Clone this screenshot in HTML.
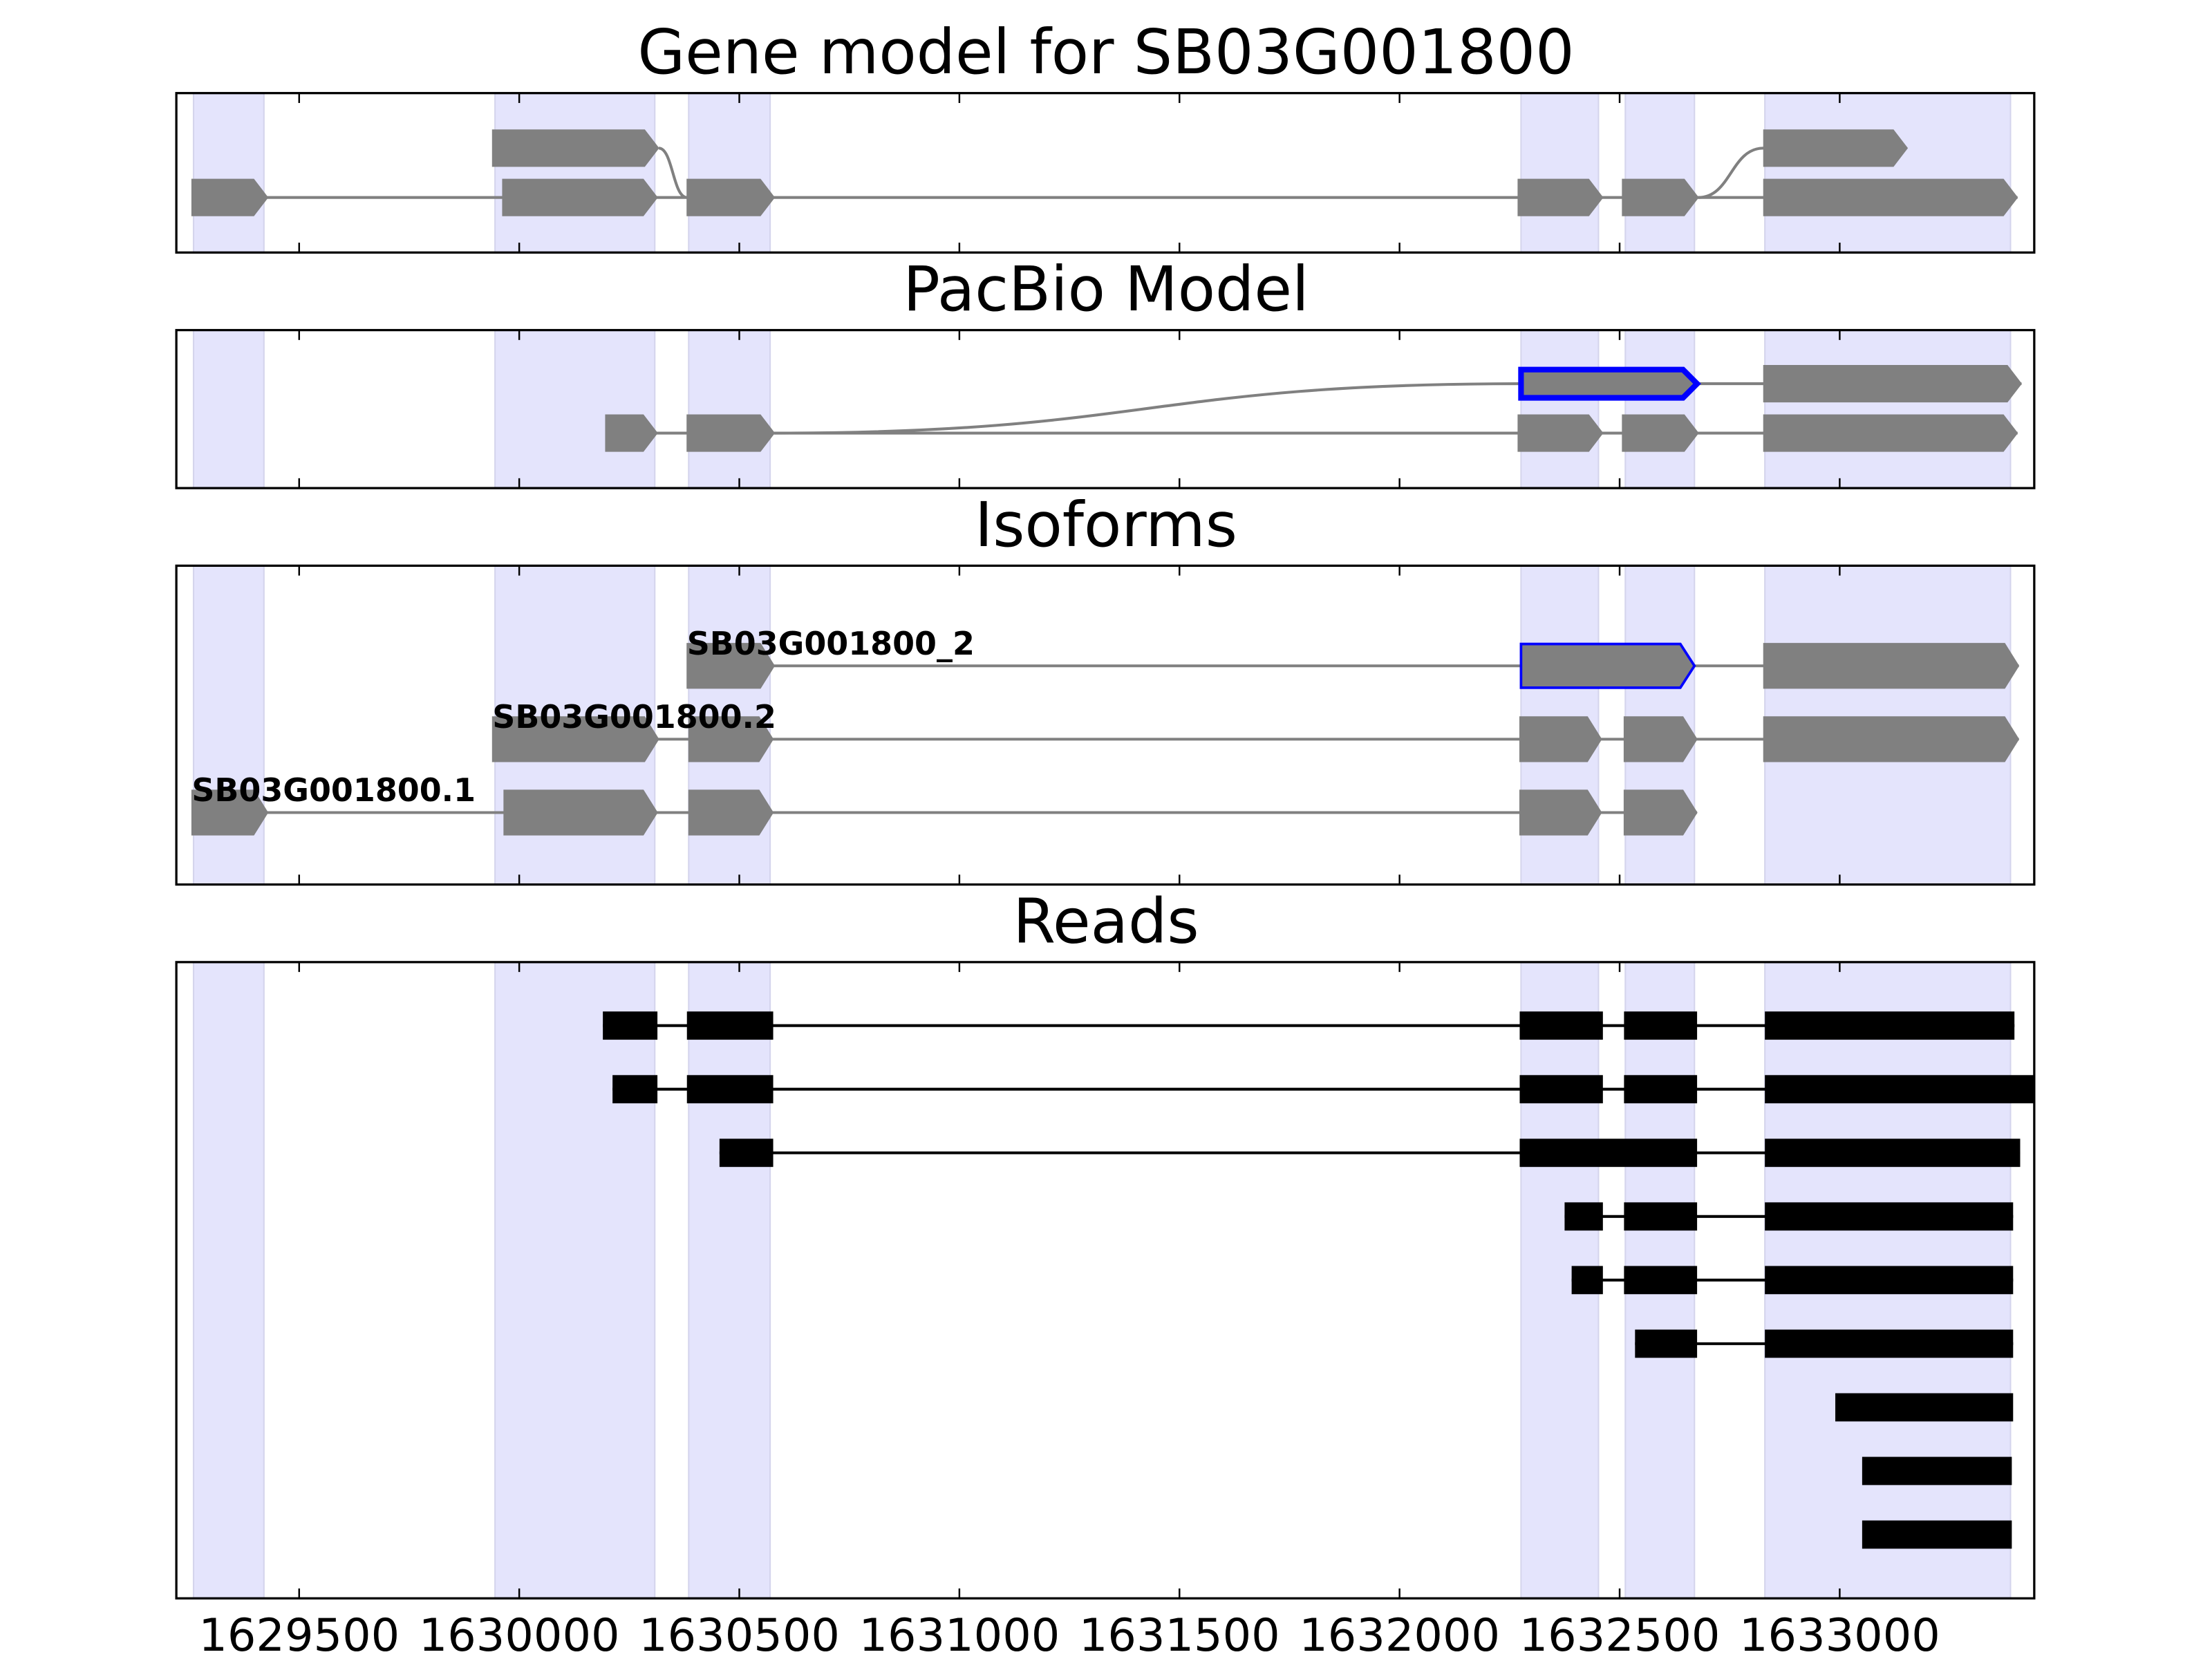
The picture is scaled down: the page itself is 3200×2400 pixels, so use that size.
<!DOCTYPE html>
<html><head><meta charset="utf-8"><style>
html,body{margin:0;padding:0;background:#fff}
svg{display:block}
text{font-family:"DejaVu Sans","Liberation Sans",sans-serif}
</style></head><body>
<svg id="chart" width="3200" height="2400" viewBox="0 0 1568 1176" xmlns="http://www.w3.org/2000/svg"></svg>
<script>
const ticks = [1629500,1630000,1630500,1631000,1631500,1632000,1632500,1633000];
const shadeStarts = [1629260,1629945,1630385,1632276,1632513,1632830];
const shadeEnds   = [1629420,1630308,1630570,1632452,1632670,1633388];
const geneLower = [[1629256,1629429],[1629962,1630314],[1630381,1630580],[1632269,1632462],[1632506,1632679],[1632827,1633404]];
const geneUpper = [[1629939,1630317],[1632827,1633154]];
const pacUpper = [[1632276,1632676],[1632827,1633413]];
const pacLower = [[1630196,1630314],[1630381,1630580],[1632269,1632462],[1632506,1632679],[1632827,1633404]];
const iso1 = [[1630381,1630580],[1632276,1632670],[1632827,1633407]];
const iso2 = [[1629939,1630317],[1630385,1630577],[1632273,1632459],[1632510,1632676],[1632827,1633407]];
const iso3 = [[1629256,1629429],[1629965,1630314],[1630385,1630577],[1632273,1632459],[1632510,1632676]];
const isoNames = ["SB03G001800_2","SB03G001800.2","SB03G001800.1"];
const reads = [
 [[1630190,1630314],[1630381,1630577],[1632273,1632462],[1632510,1632676],[1632830,1633397]],
 [[1630212,1630314],[1630381,1630577],[1632273,1632462],[1632510,1632676],[1632830,1633442]],
 [[1630455,1630577],[1632273,1632676],[1632830,1633410]],
 [[1632375,1632462],[1632510,1632676],[1632830,1633394]],
 [[1632391,1632462],[1632510,1632676],[1632830,1633394]],
 [[1632535,1632676],[1632830,1633394]],
 [[1632990,1633394]],
 [[1633051,1633391]],
 [[1633051,1633391]]
];
const svg = document.getElementById('chart');
const NS = 'http://www.w3.org/2000/svg';
const X0 = 125, X1 = 1442, V0 = 1629221, V1 = 1633442;
function x(v){ return X0 + (v - V0) * (X1 - X0) / (V1 - V0); }
function mk(tag, attrs, parent){ const e = document.createElementNS(NS, tag); for (const k in attrs) e.setAttribute(k, attrs[k]); (parent||svg).appendChild(e); return e; }
const TIP = 10;
function arrow(b, y, h, g, stroke, sw){
  const a = x(b[0]), c = x(b[1]), t = Math.min(TIP, (c-a)*0.6);
  const p = mk('polygon', {points:`${a},${y-h/2} ${c-t},${y-h/2} ${c},${y} ${c-t},${y+h/2} ${a},${y+h/2}`, fill:'#808080', stroke:stroke||'#808080', 'stroke-width':sw||0.5, 'stroke-linejoin':'miter'}, g);
  
  
}
function connect(blocks, y, g, color, w){
  const l = mk('line', {x1:x(blocks[0][0]), x2:x(blocks[blocks.length-1][1]), y1:y, y2:y, stroke:color, 'stroke-width':w}, g);
  
  
}
function panel(name, title, top, bottom){
  const g = mk('g', {});
  
  
  const t = mk('text', {x:784, y:top-14, 'text-anchor':'middle', 'font-size':43.5, fill:'#000'}, g);
  t.textContent = title;
  
  
  for (let i = 0; i < shadeStarts.length; i++){
    const r = mk('rect', {x:x(shadeStarts[i]), y:top, width:x(shadeEnds[i])-x(shadeStarts[i]), height:bottom-top, fill:'#e4e4fc', stroke:'#d4d4ec', 'stroke-width':1}, g);
    
    
  }
  return g;
}
function frame(g, top, bottom, labels){
  for (const tv of ticks){
    const tx = x(tv);
    mk('line', {x1:tx, x2:tx, y1:top, y2:top+7, stroke:'#000', 'stroke-width':1.2}, g);
    mk('line', {x1:tx, x2:tx, y1:bottom, y2:bottom-7, stroke:'#000', 'stroke-width':1.2}, g);
    if (labels){
      const lt = mk('text', {x:tx, y:1170, 'text-anchor':'middle', 'font-size':32, fill:'#000'}, g);
      lt.textContent = tv;
      
      
    }
  }
  const f = mk('rect', {x:X0, y:top, width:X1-X0, height:bottom-top, fill:'none', stroke:'#000', 'stroke-width':1.6}, g);
  
  
}
function curve(xa, ya, xb, yb, g){
  const m = (xa+xb)/2;
  mk('path', {d:`M${xa},${ya} C${m},${ya} ${m},${yb} ${xb},${yb}`, fill:'none', stroke:'#808080', 'stroke-width':2}, g);
}
let g = panel('gene-model-panel', 'Gene model for SB03G001800', 66, 179);
connect(geneLower, 140, g, '#808080', 2);
curve(x(geneUpper[0][1]), 105, x(geneLower[2][0]), 140, g);
curve(x(geneLower[4][1]), 140, x(geneUpper[1][0]), 105, g);
geneLower.forEach(b => arrow(b, 140, 26, g));
geneUpper.forEach(b => arrow(b, 105, 26, g));
frame(g, 66, 179, false);
g = panel('pacbio-panel', 'PacBio Model', 234, 346);
connect(pacLower, 307, g, '#808080', 2);
connect(pacUpper, 272, g, '#808080', 2);
curve(x(pacLower[1][1]), 307, x(pacUpper[0][0]), 272, g);
pacLower.forEach(b => arrow(b, 307, 26, g));
arrow(pacUpper[0], 272, 20, g, '#0000ff', 4);
arrow(pacUpper[1], 272, 26, g);
frame(g, 234, 346, false);
g = panel('isoforms-panel', 'Isoforms', 401, 627);
[[iso1,472],[iso2,524],[iso3,576]].forEach(([bl, y], i) => {
  connect(bl, y, g, '#808080', 2);
  bl.forEach((b, j) => { if (i===0 && j===1) arrow(b, y, 31, g, '#0000ff', 1.8); else arrow(b, y, 32, g); });
  const lt = mk('text', {x:x(bl[0][0]), y:y-8, 'font-size':22.5, 'font-weight':'bold', fill:'#000'}, g);
  lt.textContent = isoNames[i];
  
  
});
frame(g, 401, 627, false);
g = panel('reads-panel', 'Reads', 682, 1133);
reads.forEach((bl, i) => {
  const y = 727 + i * 45.1;
  if (bl.length > 1) connect(bl, y, g, '#000', 2);
  bl.forEach(b => {
    const r = mk('rect', {x:x(b[0]), y:y-10, width:x(b[1])-x(b[0]), height:20, fill:'#000'}, g);
    
    
  });
});
frame(g, 682, 1133, true);
</script>
</body></html>
